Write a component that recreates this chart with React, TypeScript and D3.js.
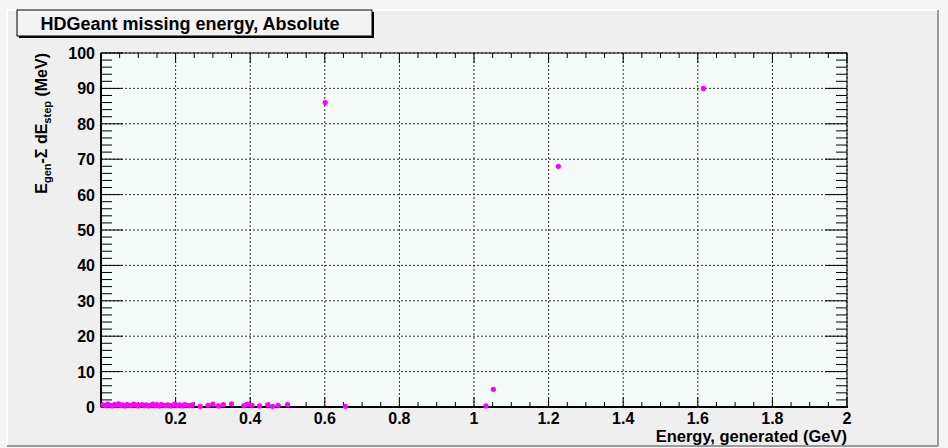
import React from "react";
import * as d3 from "d3";

const W = 948;
const H = 448;

const xTickValues = [0.2, 0.4, 0.6, 0.8, 1, 1.2, 1.4, 1.6, 1.8, 2];
const xTickLabels = ["0.2", "0.4", "0.6", "0.8", "1", "1.2", "1.4", "1.6", "1.8", "2"];
const yTickValues = [0, 10, 20, 30, 40, 50, 60, 70, 80, 90, 100];

// generated energy (GeV)
const energyGen = [
  0.005, 0.012, 0.018, 0.024, 0.03, 0.036, 0.041, 0.047, 0.053, 0.058,
  0.064, 0.07, 0.075, 0.081, 0.087, 0.093, 0.099, 0.104, 0.11, 0.116,
  0.121, 0.127, 0.133, 0.139, 0.144, 0.15, 0.156, 0.162, 0.168, 0.173,
  0.179, 0.186, 0.192, 0.198, 0.205, 0.211, 0.218, 0.224, 0.231, 0.238,
  0.245, 0.266, 0.287, 0.3, 0.315, 0.328, 0.35, 0.383, 0.392, 0.405,
  0.425, 0.447, 0.46, 0.475, 0.5, 0.601, 0.655, 1.032, 1.052, 1.226, 1.615,
];
// missing energy (MeV)
const missingE = [
  0.6, 0.4, 0.8, 0.5, 0.3, 0.7, 0.5, 0.9, 0.4, 0.6,
  0.3, 0.7, 0.5, 0.4, 0.8, 0.6, 0.3, 0.5, 0.7, 0.4,
  0.6, 0.3, 0.5, 0.8, 0.4, 0.6, 0.3, 0.7, 0.5, 0.4,
  0.6, 0.3, 0.5, 0.8, 0.4, 0.6, 0.3, 0.7, 0.5, 0.4,
  0.6, 0.2, 0.5, 0.8, 0.3, 0.7, 0.9, 0.4, 0.8, 0.5,
  0.3, 0.6, 0.2, 0.5, 0.7, 86, 0.2, 0.3, 5, 68, 90,
];

const FONT = "'Liberation Sans', Arial, Helvetica, sans-serif";

export default function App() {
  const left = 101, right = 847, top = 53, bottom = 407;
  const x = d3.scaleLinear().domain([0, 2]).range([left, right]);
  const y = d3.scaleLinear().domain([0, 100]).range([bottom, top]);

  const xMinor = d3.range(0, 2.0001, 0.05);
  const yMinor = d3.range(0, 100.0001, 2);

  return (
    <svg width={W} height={H} style={{ position: "absolute", left: 0, top: 0 }}>
      <rect x={0} y={0} width={W} height={H} fill="#f4f4f4" />
      {/* pad */}
      <rect x={7} y={10} width={931} height={436} fill="#efefef" />
      <line x1={7} y1={10} x2={938} y2={10} stroke="#ffffff" strokeWidth={2} />
      <line x1={7} y1={10} x2={7} y2={446} stroke="#ffffff" strokeWidth={2} />
      <line x1={938} y1={10} x2={938} y2={446} stroke="#9a9a9a" strokeWidth={2} />
      <line x1={7} y1={446} x2={938} y2={446} stroke="#9a9a9a" strokeWidth={2} />

      {/* frame */}
      <rect x={left} y={top} width={right - left} height={bottom - top} fill="#f5fbf8" />

      {/* grid */}
      {xTickValues.map((v, i) => (
        <line key={"gx" + i} x1={x(v)} x2={x(v)} y1={top} y2={bottom}
          stroke="#333" strokeWidth={1} strokeDasharray="2,2" />
      ))}
      {yTickValues.map((v, i) => (
        <line key={"gy" + i} x1={left} x2={right} y1={y(v)} y2={y(v)}
          stroke="#333" strokeWidth={1} strokeDasharray="2,2" />
      ))}

      {/* x ticks bottom/top */}
      {xMinor.map((v, i) => {
        const major = Math.abs(v / 0.2 - Math.round(v / 0.2)) < 1e-6;
        const len = major ? 10 : 5;
        return (
          <g key={"xt" + i}>
            <line x1={x(v)} x2={x(v)} y1={bottom} y2={bottom - len} stroke="#000" strokeWidth={1} />
            <line x1={x(v)} x2={x(v)} y1={top} y2={top + len} stroke="#000" strokeWidth={1} />
          </g>
        );
      })}
      {/* y ticks left/right */}
      {yMinor.map((v, i) => {
        const major = Math.abs(v % 10) < 1e-6;
        const len = major ? 22 : 11;
        return (
          <g key={"yt" + i}>
            <line x1={left} x2={left + len} y1={y(v)} y2={y(v)} stroke="#000" strokeWidth={1} />
            <line x1={right} x2={right - len} y1={y(v)} y2={y(v)} stroke="#000" strokeWidth={1} />
          </g>
        );
      })}

      <rect x={left} y={top} width={right - left} height={bottom - top} fill="none" stroke="#000" strokeWidth={1} />
      <line x1={left} x2={right + 1} y1={bottom} y2={bottom} stroke="#000" strokeWidth={2} />
      <line x1={left} x2={left} y1={top} y2={bottom} stroke="#000" strokeWidth={2} />

      {/* tick labels */}
      {xTickValues.map((v, i) => (
        <text key={"xl" + i} x={x(v)} y={424} textAnchor="middle" fontFamily={FONT}
          fontWeight="bold" fontSize={16} fill="#000">{xTickLabels[i]}</text>
      ))}
      <text x={x(0) - 6} y={y(0) + 6} textAnchor="end" fontFamily={FONT} fontWeight="bold" fontSize={16}>0</text>
      {yTickValues.slice(1).map((v, i) => (
        <text key={"yl" + i} x={95} y={y(v) + 6} textAnchor="end" fontFamily={FONT}
          fontWeight="bold" fontSize={16} fill="#000">{v}</text>
      ))}

      {/* axis titles */}
      <text x={right} y={442} textAnchor="end" fontFamily={FONT} fontWeight="bold" fontSize={16.5}>
        Energy, generated (GeV)
      </text>
      <text transform={`translate(47,${top}) rotate(-90)`} textAnchor="end" fontFamily={FONT}
        fontWeight="bold" fontSize={16}>
        <tspan>E</tspan>
        <tspan fontSize={11} dy={4}>gen</tspan>
        <tspan dy={-4}>-Σ dE</tspan>
        <tspan fontSize={11} dy={4}>step</tspan>
        <tspan dy={-4}> (MeV)</tspan>
      </text>

      {/* data */}
      {energyGen.map((e, i) => (
        <circle key={"p" + i} cx={x(e)} cy={y(missingE[i])} r={2.6} fill="#ff00ff" />
      ))}

      {/* title box */}
      <rect x={19} y={12} width={355} height={26} fill="#000" />
      <rect x={17} y={10} width={355} height={26} fill="#f3f3f3" stroke="#000" strokeWidth={1} />
      <text x={190} y={30} textAnchor="middle" fontFamily={FONT} fontWeight="bold" fontSize={18}>
        HDGeant missing energy, Absolute
      </text>
    </svg>
  );
}
